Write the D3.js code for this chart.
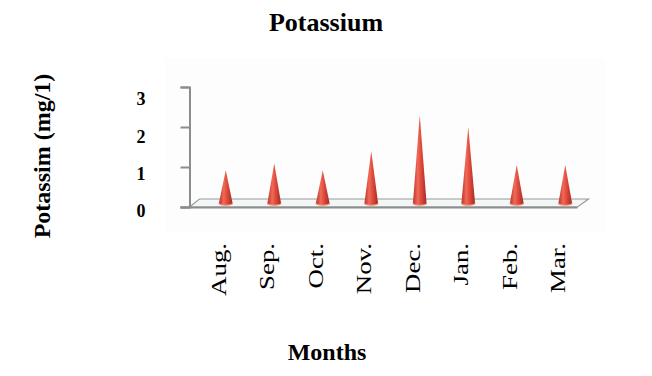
<!DOCTYPE html>
<html>
<head>
<meta charset="utf-8">
<script src="https://cdn.jsdelivr.net/npm/d3@7"></script>
<style>
  body { margin: 0; background: #fff; }
  text { font-family: "Liberation Serif", "Times New Roman", serif; fill: #000; }
</style>
</head>
<body>
<div id="chart"></div>
<script>
var months = ["Aug.", "Sep.", "Oct.", "Nov.", "Dec.", "Jan.", "Feb.", "Mar."];
var potassium = [0.92, 1.09, 0.92, 1.4, 2.3, 2.0, 1.05, 1.05];
var yTicks = [0, 1, 2, 3];

var svgWidth = 652, svgHeight = 376;

var svg = d3.select("#chart").append("svg")
  .attr("width", svgWidth)
  .attr("height", svgHeight);

var x = d3.scaleBand().domain(months).range([201.5, 589.5]);
var y = d3.scaleLinear().domain([0, 3]).range([207, 87]);
// tick labels sit a little off the tick marks in the original
var yLab = d3.scaleLinear().domain([0, 3]).range([211, 99]);

var defs = svg.append("defs");
var grad = defs.append("linearGradient").attr("id", "cone")
  .attr("x1", "0%").attr("x2", "100%").attr("y1", "0%").attr("y2", "0%");
grad.append("stop").attr("offset", "0%").attr("stop-color", "#b8342c");
grad.append("stop").attr("offset", "35%").attr("stop-color", "#f06a58");
grad.append("stop").attr("offset", "60%").attr("stop-color", "#de4a3c");
grad.append("stop").attr("offset", "100%").attr("stop-color", "#a82a22");

// faint plot area
svg.append("rect")
  .attr("x", 165).attr("y", 58).attr("width", 440).attr("height", 175)
  .attr("fill", "#fdfdfd");

// floor
var floorFront = 207, floorBack = 199;
var fx0 = x.range()[0] - 12, fx1 = x.range()[1] - 12;
svg.append("path")
  .attr("d", `M${fx0},${floorFront} L${fx0 + 10},${floorBack} L${fx1 + 11},${floorBack} L${fx1},${floorFront} Z`)
  .attr("fill", "#f3f6f6")
  .attr("stroke", "#9a9a9a")
  .attr("stroke-width", 1.2);
svg.append("line")
  .attr("x1", fx0 - 9).attr("x2", fx1)
  .attr("y1", floorFront + 0.5).attr("y2", floorFront + 0.5)
  .attr("stroke", "#8c8c8c").attr("stroke-width", 2);

// value axis
var leftAxis = d3.axisLeft(y).tickValues(yTicks).tickSize(9).tickFormat("");
var axisG = svg.append("g")
  .attr("transform", `translate(${fx0},0)`)
  .call(leftAxis);
axisG.selectAll("path, line").attr("stroke", "#8c8c8c").attr("stroke-width", 2);

svg.selectAll(".ylab").data(yTicks).enter().append("text")
  .attr("class", "ylab")
  .attr("x", 141)
  .attr("y", d => yLab(d))
  .attr("dy", "0.35em")
  .attr("text-anchor", "middle")
  .attr("font-weight", "bold")
  .attr("font-size", 18)
  .text(d => d);

// cones
var baseY = 203, rx = 6.8, ry = 2.2;
var cones = svg.selectAll(".cone").data(months).enter().append("g").attr("class", "cone");
cones.append("path")
  .attr("d", (d, i) => {
    var cx = x(d) + x.bandwidth() / 2;
    return `M${cx - rx},${baseY} L${cx},${y(potassium[i])} L${cx + rx},${baseY} A${rx},${ry} 0 0 1 ${cx - rx},${baseY} Z`;
  })
  .attr("fill", "url(#cone)");
cones.append("path")
  .attr("d", d => {
    var cx = x(d) + x.bandwidth() / 2;
    return `M${cx - rx},${baseY} A${rx},${ry} 0 0 0 ${cx + rx},${baseY}`;
  })
  .attr("fill", "none")
  .attr("stroke", "#f08a6a")
  .attr("stroke-width", 1.2);

// month labels
svg.selectAll(".xlab").data(months).enter().append("text")
  .attr("class", "xlab")
  .attr("transform", d => `translate(${x(d) + x.bandwidth() / 2},243) rotate(-90) scale(1.22,1)`)
  .attr("text-anchor", "end")
  .attr("font-size", 22)
  .text(d => d);

// titles
svg.append("text")
  .attr("x", 326).attr("y", 31)
  .attr("text-anchor", "middle")
  .attr("font-weight", "bold")
  .attr("font-size", 26)
  .text("Potassium");

svg.append("text")
  .attr("x", 327).attr("y", 360)
  .attr("text-anchor", "middle")
  .attr("font-weight", "bold")
  .attr("font-size", 24)
  .text("Months");

svg.append("text")
  .attr("transform", "translate(50,156) rotate(-90)")
  .attr("text-anchor", "middle")
  .attr("font-weight", "bold")
  .attr("font-size", 24)
  .text("Potassim (mg/1)");
</script>
</body>
</html>
